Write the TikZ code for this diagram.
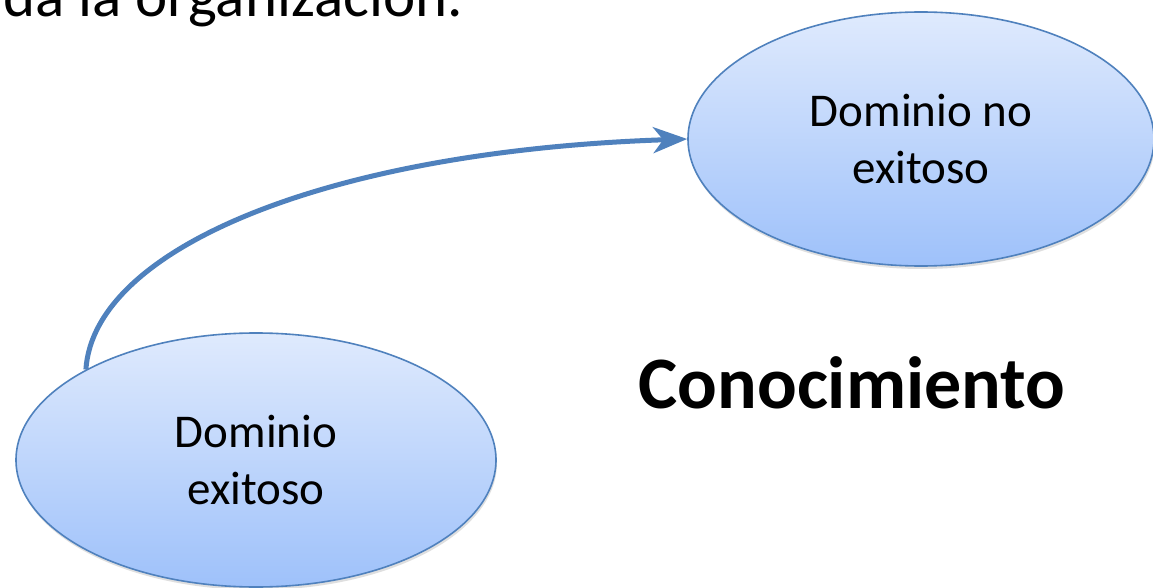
\documentclass[tikz,border=0pt]{standalone}
\usepackage{fontspec}
\setmainfont{Carlito}
\usepackage{tikz}
\usetikzlibrary{arrows.meta, shapes.geometric, shadows}
\usepackage{xcolor}
\definecolor{ovalTop}{RGB}{223,234,253}
\definecolor{ovalBot}{RGB}{158,193,250}
\definecolor{ovalLine}{RGB}{79,129,189}

\begin{document}
\begin{tikzpicture}[>=Stealth, x=1pt, y=-1pt,
  oval/.style={ellipse, draw=ovalLine, line width=1.6pt,
    top color=ovalTop, bottom color=ovalBot, inner sep=0pt,
    drop shadow={opacity=0.25, shadow xshift=1pt, shadow yshift=-3pt},
    font=\fontsize{47}{57}\selectfont, align=center, text=black}]
  \useasboundingbox[fill=white] (0,0) rectangle (1153,588);
  \node[anchor=base east, inner sep=0pt, font=\fontsize{61}{70}\selectfont]
    (head) at (463,17) {da la organización.};
  \node[oval, minimum width=480pt, minimum height=254pt]
    (exito) at (256,460) {Dominio\\exitoso};
  \node[oval, minimum width=466pt, minimum height=254pt]
    (fallo) at (921,139) {Dominio no\\exitoso};
  \node[anchor=base, inner sep=0pt, font=\fontsize{74}{82}\selectfont\bfseries]
    (conoc) at (852,408) {Conocimiento};
  \draw[->, ovalLine, line width=5pt,
        >={Stealth[length=34pt, width=26pt, inset=10pt]}]
    (exito.152) .. controls +(8,-122) and +(-358,12) .. (fallo.west);
\end{tikzpicture}
\end{document}
